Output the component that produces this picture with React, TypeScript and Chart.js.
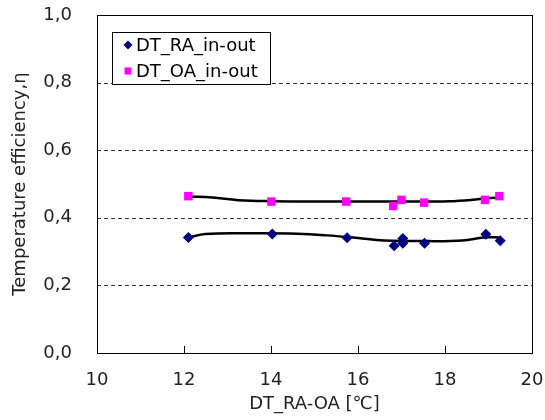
import React, { useEffect, useRef } from "react";
import { Chart, registerables } from "chart.js";

Chart.register(...registerables);

const raX = [12.1, 14.03, 15.75, 16.83, 17.03, 17.03, 17.53, 18.94, 19.27];
const raY = [0.342, 0.352, 0.341, 0.317, 0.339, 0.325, 0.325, 0.351, 0.332];
const oaX = [12.1, 14.01, 15.73, 16.81, 17.0, 17.52, 18.92, 19.25];
const oaY = [0.464, 0.448, 0.448, 0.435, 0.453, 0.445, 0.453, 0.464];
const raTrendX = [12.1, 12.5, 13.5, 14.6, 15.3, 16.0, 16.6, 17.6, 18.4, 18.9, 19.25];
const raTrendY = [0.342, 0.352, 0.354, 0.353, 0.348, 0.34, 0.333, 0.331, 0.333, 0.342, 0.342];
const oaTrendX = [12.1, 12.65, 13.25, 14.05, 15.1, 16.1, 17.1, 18.1, 18.7, 19.25];
const oaTrendY = [0.463, 0.46, 0.452, 0.449, 0.448, 0.448, 0.448, 0.449, 0.454, 0.461];
const seriesNames = ["DT_RA_in-out", "DT_OA_in-out"];
const xTitle = "DT_RA-OA [℃]";
const yTitle = "Temperature efficiency,η";

const FONT = "'DejaVu Sans', sans-serif";
const TEXT = "#222";

const pts = (xs: number[], ys: number[]) => xs.map((x, i) => ({ x, y: ys[i] }));

const framePlugin = {
  id: "frame",
  beforeDatasetsDraw(chart: any) {
    const { ctx, chartArea: a, scales } = chart;
    ctx.save();
    ctx.strokeStyle = "#333";
    ctx.lineWidth = 1;
    ctx.setLineDash([4, 3]);
    for (const t of scales.y.ticks) {
      if (t.value <= 0 || t.value >= 1) continue;
      const py = Math.round(scales.y.getPixelForValue(t.value)) + 0.5;
      ctx.beginPath();
      ctx.moveTo(a.left, py);
      ctx.lineTo(a.right, py);
      ctx.stroke();
    }
    ctx.restore();
  },
  afterDraw(chart: any) {
    const { ctx, chartArea: a, scales } = chart;
    ctx.save();
    ctx.strokeStyle = "#000";
    ctx.lineWidth = 1;
    ctx.strokeRect(Math.round(a.left) + 0.5, Math.round(a.top) + 0.5, Math.round(a.right - a.left), Math.round(a.bottom - a.top));
    const xs = scales.x;
    for (const t of xs.ticks) {
      const px = Math.round(xs.getPixelForValue(t.value)) + 0.5;
      ctx.beginPath();
      ctx.moveTo(px, a.bottom);
      ctx.lineTo(px, a.bottom - 7);
      ctx.stroke();
    }
    // legend
    const lx = 112, ly = 32, lw = 158, lh = 52;
    ctx.fillStyle = "#fff";
    ctx.fillRect(lx, ly, lw, lh);
    ctx.strokeStyle = "#000";
    ctx.strokeRect(lx + 0.5, ly + 0.5, lw, lh);
    ctx.font = `18px ${FONT}`;
    ctx.textBaseline = "middle";
    const d1y = ly + 13;
    ctx.fillStyle = "#000080";
    ctx.beginPath();
    ctx.moveTo(lx + 16, d1y - 4.5);
    ctx.lineTo(lx + 20.5, d1y);
    ctx.lineTo(lx + 16, d1y + 4.5);
    ctx.lineTo(lx + 11.5, d1y);
    ctx.closePath();
    ctx.fill();
    ctx.fillStyle = "#000";
    ctx.fillText(seriesNames[0], lx + 24, d1y + 1);
    const d2y = ly + 39;
    ctx.fillStyle = "#ff00ff";
    ctx.fillRect(lx + 12.5, d2y - 3.5, 7, 7);
    ctx.fillStyle = "#000";
    ctx.fillText(seriesNames[1], lx + 24, d2y + 1);
    ctx.restore();
  },
};

export default function App() {
  const ref = useRef<HTMLCanvasElement>(null);
  useEffect(() => {
    if (!ref.current) return;
    const chart = new Chart(ref.current, {
      type: "scatter",
      data: {
        datasets: [
          {
            label: seriesNames[0] + " trend",
            data: pts(raTrendX, raTrendY),
            showLine: true,
            borderColor: "#000",
            borderWidth: 2.5,
            pointRadius: 0,
            tension: 0.4,
            order: 3,
          },
          {
            label: seriesNames[1] + " trend",
            data: pts(oaTrendX, oaTrendY),
            showLine: true,
            borderColor: "#000",
            borderWidth: 2.5,
            pointRadius: 0,
            tension: 0.4,
            order: 3,
          },
          {
            label: seriesNames[0],
            data: pts(raX, raY),
            pointStyle: "rectRot",
            pointRadius: 5.5,
            backgroundColor: "#000080",
            borderColor: "#000080",
            borderWidth: 0,
            order: 1,
          },
          {
            label: seriesNames[1],
            data: pts(oaX, oaY),
            pointStyle: "rect",
            pointRadius: 6,
            backgroundColor: "#ff00ff",
            borderColor: "#ff00ff",
            borderWidth: 0,
            order: 2,
          },
        ],
      },
      options: {
        animation: false,
        responsive: false,
        maintainAspectRatio: false,
        layout: { padding: { left: 0, right: 13, top: 15, bottom: 0 } },
        plugins: { legend: { display: false }, tooltip: { enabled: false } },
        scales: {
          x: {
            type: "linear",
            min: 10,
            max: 20,
            ticks: { stepSize: 2, color: TEXT, font: { family: FONT, size: 18 }, padding: 17 },
            grid: { display: false, drawTicks: false },
            border: { display: false },
            title: { display: true, text: xTitle, color: TEXT, font: { family: FONT, size: 18 }, padding: { top: 0, bottom: 5 } },
            afterFit: (s: any) => {
              s.height = 67;
              s.paddingLeft = 0;
              s.paddingRight = 0;
            },
          },
          y: {
            min: 0,
            max: 1,
            ticks: {
              stepSize: 0.2,
              color: TEXT,
              font: { family: FONT, size: 18 },
              padding: 25,
              callback: (v: any) => Number(v).toFixed(1).replace(".", ","),
            },
            grid: { display: false, drawTicks: false },
            border: { display: false },
            title: { display: true, text: yTitle, color: TEXT, font: { family: FONT, size: 18 }, padding: { top: 10, bottom: 0 } },
            afterFit: (s: any) => {
              s.width = 97;
              s.paddingTop = 0;
              s.paddingBottom = 0;
            },
          },
        },
      },
      plugins: [framePlugin],
    });
    return () => chart.destroy();
  }, []);
  return (
    <div style={{ position: "fixed", left: 0, top: 0, width: 545, height: 420, background: "#fff" }}>
      <canvas ref={ref} width={545} height={420} />
    </div>
  );
}
